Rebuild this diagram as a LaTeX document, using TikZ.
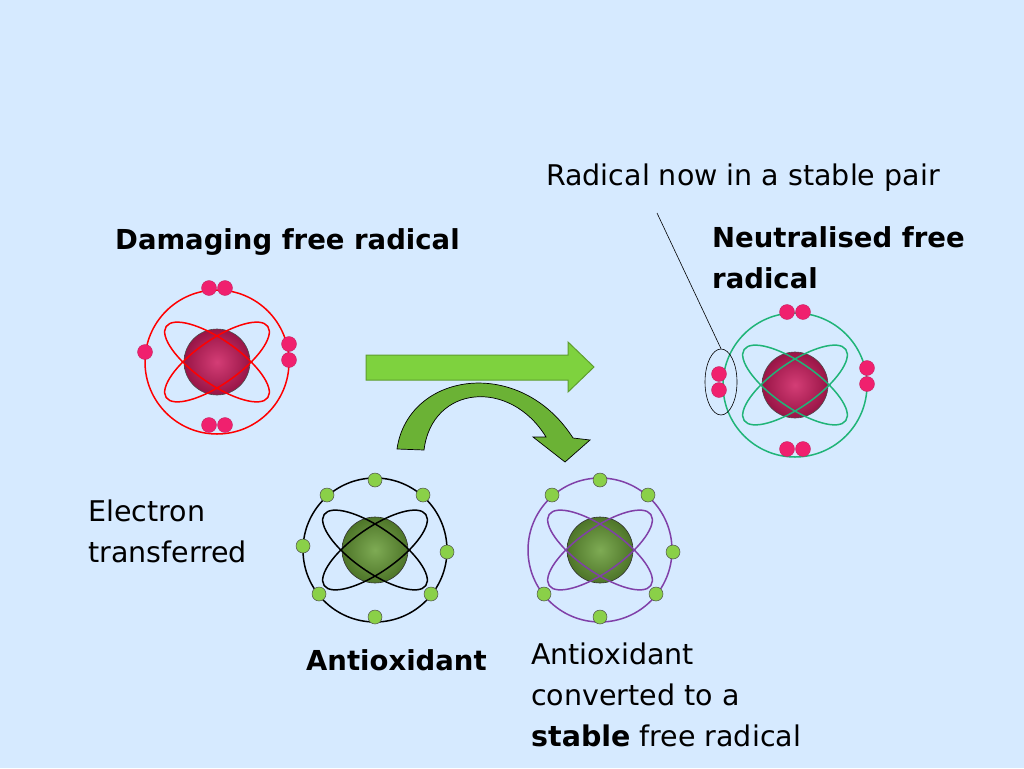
\documentclass[tikz,border=0pt]{standalone}
\usepackage{fontspec}
\setmainfont{DejaVu Sans}
\usetikzlibrary{shapes.geometric}
\begin{document}
\begin{tikzpicture}[x=1pt,y=-1pt,
  lbl/.style={font=\fontsize{28.5}{41}\selectfont,align=left,inner sep=0pt},
  blbl/.style={lbl,font=\fontsize{27.5}{41}\selectfont\bfseries},
  rede/.style={circle,fill=eRed,draw=eRed!80!black,line width=0.3pt,minimum size=15pt,inner sep=0pt},
  gree/.style={circle,fill=eGreen,draw=black!70,line width=0.5pt,minimum size=14pt,inner sep=0pt}]
\definecolor{bg}{HTML}{D6EAFF}
\definecolor{eRed}{HTML}{F0206E}
\definecolor{eGreen}{HTML}{8AD048}
\definecolor{orbG}{HTML}{20B478}
\definecolor{orbP}{HTML}{8040A8}
\definecolor{arrG}{HTML}{7ED23E}
\fill[bg] (0,0) rectangle (1024,768);
\useasboundingbox (0,0) rectangle (1024,768);
\newcommand{\myatom}[4]{%
  \begin{scope}[shift={#1}]
  \draw[#2,line width=1.5pt] (0,0) circle (72);
  \shade[inner color=#3!85!white,outer color=#3!75!black,draw=#4,line width=0.6pt] (0,0) circle (33);
  \draw[#2,line width=1.5pt,rotate=35] (0,0) ellipse (62 and 22);
  \draw[#2,line width=1.5pt,rotate=-35] (0,0) ellipse (62 and 22);
  \end{scope}}
\myatom{(217,362)}{red}{eRed!85!black}{black!70}
\myatom{(795,385)}{orbG}{eRed!85!black}{black!70}
\myatom{(375,550)}{black}{eGreen!75!black}{black!80}
\myatom{(600,550)}{orbP}{eGreen!75!black}{black!80}
\foreach \p/\n in {{(209,288)}/r1,{(225,288)}/r2,{(145,352)}/r3,{(289,344)}/r4,{(289,360)}/r5,{(209,425)}/r6,{(225,425)}/r7}
  \node[rede] (\n) at \p {};
\foreach \p/\n in {{(787,312)}/n1,{(803,312)}/n2,{(867,368)}/n3,{(867,384)}/n4,{(719,374)}/n5,{(719,390)}/n6,{(787,449)}/n7,{(803,449)}/n8}
  \node[rede] (\n) at \p {};
\node[draw=black,ellipse,minimum width=32pt,minimum height=66pt,inner sep=0pt,line width=0.6pt] (pair) at (721,382) {};
\foreach \p/\n in {{(375,480)}/a1,{(327,495)}/a2,{(423,495)}/a3,{(303,546)}/a4,{(447,552)}/a5,{(319,594)}/a6,{(431,594)}/a7,{(375,617)}/a8}
  \node[gree] (\n) at \p {};
\foreach \p/\n in {{(600,480)}/c1,{(552,495)}/c2,{(648,495)}/c3,{(673,552)}/c5,{(544,594)}/c6,{(656,594)}/c7,{(600,617)}/c8}
  \node[gree] (\n) at \p {};
\fill[arrG,draw=arrG!75!black,line width=1pt] (366,355) -- (568,355) -- (568,342) -- (594,367) -- (568,392) -- (568,380) -- (366,380) -- cycle;
\fill[arrG!85!black,draw=black,line width=0.7pt] (397,449) .. controls (408,372) and (520,355) .. (573,438) -- (590,440) -- (565,462) -- (533,437) -- (546,437) .. controls (510,378) and (432,385) .. (424,450) -- cycle;
\node[lbl,anchor=west] (t1) at (546,178) {Radical now in a stable pair};
\coordinate (lt) at (657,213);
\draw[line width=0.6pt] (lt) -- (pair.north);
\node[blbl,anchor=west] (t2) at (115,242) {Damaging free radical};
\node[blbl,anchor=north west] (t3) at (712,226) {Neutralised free\\radical};
\node[lbl,anchor=north west] (t4) at (88,500) {Electron\\transferred};
\node[lbl,anchor=north west] (t6) at (531,643) {Antioxidant\\converted to a\\\textbf{stable} free radical};
\node[blbl,anchor=west] (t5) at (306,660) {Antioxidant};
\end{tikzpicture}
\end{document}
